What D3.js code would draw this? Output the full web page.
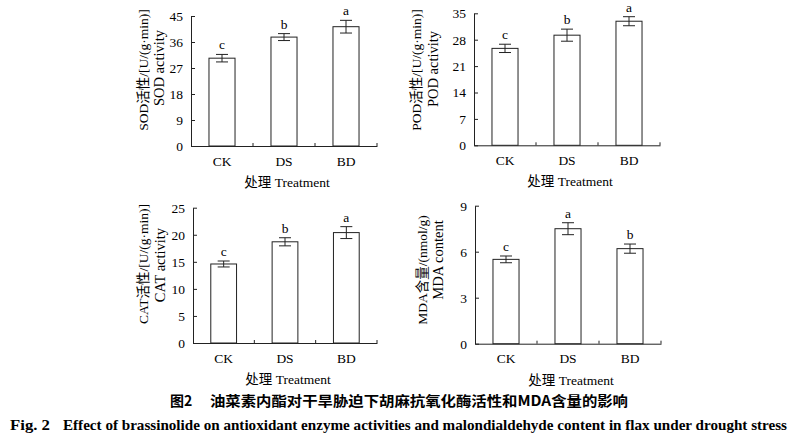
<!DOCTYPE html>
<html>
<head>
<meta charset="utf-8">
<script src="https://cdn.jsdelivr.net/npm/d3@7"></script>
<style>
  body { margin: 0; background: #fff; }
  svg { display: block; }
  text { font-family: "Liberation Serif", "Times New Roman", "Noto Sans CJK SC", serif; fill: #000; }
</style>
</head>
<body>
<svg id="chart" width="794" height="442"></svg>
<script>
// categories shared by all four panels
var categories = ["CK", "DS", "BD"];

var sodMean = [30.4, 37.7, 41.3];
var sodErr = [1.3, 1.2, 2.2];
var sodLetters = ["c", "b", "a"];
var sodTicks = [0, 9, 18, 27, 36, 45];

var podMean = [25.7, 29.2, 32.9];
var podErr = [1.1, 1.6, 1.2];
var podLetters = ["c", "b", "a"];
var podTicks = [0, 7, 14, 21, 28, 35];

var catMean = [14.6, 18.7, 20.4];
var catErr = [0.55, 0.75, 1.1];
var catLetters = ["c", "b", "a"];
var catTicks = [0, 5, 10, 15, 20, 25];

var mdaMean = [5.5, 7.5, 6.2];
var mdaErr = [0.22, 0.39, 0.3];
var mdaLetters = ["c", "a", "b"];
var mdaTicks = [0, 3, 6, 9];

var xTitle = "处理 Treatment";
var captionCn = ["图2", "油菜素内酯对干旱胁迫下胡麻抗氧化酶活性和MDA含量的影响"];
var captionEn = ["Fig. 2", "Effect of brassinolide on antioxidant enzyme activities and malondialdehyde content in flax under drought stress"];

var panels = [
    { mean: sodMean, err: sodErr, letters: sodLetters, ticks: sodTicks,
      label: ["SOD活性/[U/(g·min)]", "SOD activity"],
      x0: 191, x1: 377, top: 16, bottom: 146, lx: [143, 159], ly: [70, 68] },
    { mean: podMean, err: podErr, letters: podLetters, ticks: podTicks,
      label: ["POD活性/[U/(g·min)]", "POD activity"],
      x0: 474, x1: 660, top: 13.3, bottom: 145.3, lx: [416, 433], ly: [70, 69] },
    { mean: catMean, err: catErr, letters: catLetters, ticks: catTicks,
      label: ["CAT活性/[U/(g·min)]", "CAT activity"],
      x0: 193, x1: 377, top: 207.7, bottom: 343, lx: [143, 160], ly: [264, 265] },
    { mean: mdaMean, err: mdaErr, letters: mdaLetters, ticks: mdaTicks,
      label: ["MDA含量/(nmol/g)", "MDA content"],
      x0: 475, x1: 661, top: 205.7, bottom: 343.7, lx: [422, 438], ly: [270, 260] }
];

var svg = d3.select("#chart");
var INK = "#222";

function drawPanel(p) {
    var g = svg.append("g");
    var x = d3.scaleBand().domain(categories).range([p.x0, p.x1]).padding(0);
    var y = d3.scaleLinear().domain([0, d3.max(p.ticks)]).range([p.bottom, p.top]);
    var barW = x.bandwidth() * 0.42;

    // y axis, ticks pointing inward
    var yAxis = d3.axisLeft(y).tickValues(p.ticks).tickSizeInner(-4).tickSizeOuter(0).tickPadding(8);
    var ya = g.append("g").attr("transform", "translate(" + p.x0 + ",0)").call(yAxis);
    ya.select(".domain").attr("stroke", INK);
    ya.selectAll(".tick line").attr("stroke", INK);
    ya.selectAll(".tick text").attr("font-size", 13.5).attr("font-family", null);

    // x axis with category labels, no ticks at centres
    var xAxis = d3.axisBottom(x).tickSize(0).tickPadding(10);
    var xa = g.append("g").attr("transform", "translate(0," + p.bottom + ")").call(xAxis);
    xa.select(".domain").attr("stroke", INK);
    xa.selectAll(".tick text").attr("font-size", 13.5).attr("font-family", null);

    // small upward ticks between categories
    g.selectAll(".sep").data(categories).enter().append("line")
        .attr("x1", function (d) { return x(d) + x.step(); })
        .attr("x2", function (d) { return x(d) + x.step(); })
        .attr("y1", p.bottom).attr("y2", p.bottom - 3)
        .attr("stroke", INK);

    var data = categories.map(function (c, i) {
        return { cat: c, v: p.mean[i], e: p.err[i], l: p.letters[i] };
    });

    g.selectAll(".bar").data(data).enter().append("rect")
        .attr("x", function (d) { return x(d.cat) + (x.bandwidth() - barW) / 2; })
        .attr("y", function (d) { return y(d.v); })
        .attr("width", barW)
        .attr("height", function (d) { return y(0) - y(d.v); })
        .attr("fill", "#fff").attr("stroke", INK).attr("stroke-width", 1);

    var cx = function (d) { return x(d.cat) + x.bandwidth() / 2; };
    var eb = g.selectAll(".err").data(data).enter().append("g");
    eb.append("line")
        .attr("x1", cx).attr("x2", cx)
        .attr("y1", function (d) { return y(d.v + d.e); })
        .attr("y2", function (d) { return y(d.v - d.e); })
        .attr("stroke", INK);
    [1, -1].forEach(function (s) {
        eb.append("line")
            .attr("x1", function (d) { return cx(d) - 6; })
            .attr("x2", function (d) { return cx(d) + 6; })
            .attr("y1", function (d) { return y(d.v + s * d.e); })
            .attr("y2", function (d) { return y(d.v + s * d.e); })
            .attr("stroke", INK);
    });
    eb.append("text")
        .attr("x", cx)
        .attr("y", function (d) { return y(d.v + d.e) - 5; })
        .attr("text-anchor", "middle").attr("font-size", 13.5)
        .text(function (d) { return d.l; });

    // y title, two rotated lines
    p.label.forEach(function (t, i) {
        g.append("text")
            .attr("transform", "translate(" + p.lx[i] + "," + p.ly[i] + ") rotate(-90)")
            .attr("text-anchor", "middle").attr("dominant-baseline", "central")
            .attr("font-size", i === 0 ? 13.5 : 14.5)
            .text(t);
    });

    g.append("text")
        .attr("x", (p.x0 + p.x1) / 2 + 3).attr("y", p.bottom + 41)
        .attr("text-anchor", "middle").attr("font-size", 13.5)
        .text(xTitle);
}

panels.forEach(drawPanel);

// figure caption
svg.append("text").attr("x", 170).attr("y", 406)
    .attr("font-size", 14).attr("font-weight", "bold")
    .style("font-family", "'Noto Sans CJK SC', sans-serif")
    .text(captionCn[0]);
svg.append("text").attr("x", 210).attr("y", 406)
    .attr("font-size", 14).attr("font-weight", "bold")
    .attr("textLength", 418).attr("lengthAdjust", "spacingAndGlyphs")
    .style("font-family", "'Noto Sans CJK SC', sans-serif")
    .text(captionCn[1]);

svg.append("text").attr("x", 10).attr("y", 430)
    .attr("font-size", 14).attr("font-weight", "bold")
    .attr("textLength", 40).attr("lengthAdjust", "spacingAndGlyphs")
    .text(captionEn[0]);
svg.append("text").attr("x", 63).attr("y", 430)
    .attr("font-size", 14).attr("font-weight", "bold")
    .attr("textLength", 724).attr("lengthAdjust", "spacingAndGlyphs")
    .text(captionEn[1]);
</script>
</body>
</html>
